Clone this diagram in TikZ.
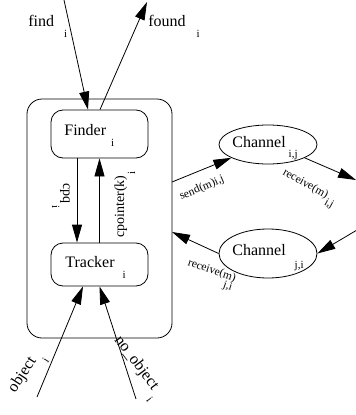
\documentclass[tikz,border=0pt]{standalone}
\usepackage{fontspec}
\setmainfont{Liberation Serif}
\usetikzlibrary{arrows.meta,shapes.geometric}

\newcommand{\subfont}{\fontsize{11}{11}\selectfont}
\newcommand{\subat}[3]{\hspace{#1}\raisebox{#2}{\subfont #3}}
\newcommand{\sub}[2][3pt]{\subat{#1}{-11pt}{#2}}

\begin{document}
\begin{tikzpicture}[x=1pt, y=-1pt, line width=0.8pt,
    arr/.style={-{Triangle[length=18pt, width=10pt]}},
    outer/.style={draw, rounded corners=15pt, inner sep=0pt},
    box/.style={draw, rounded corners=12pt, minimum width=97pt, inner sep=0pt},
    chan/.style={draw, ellipse, minimum width=98pt, inner sep=0pt},
    lbl/.style={inner sep=0pt, font=\fontsize{16}{16}\selectfont},
    midlbl/.style={inner sep=0pt, font=\fontsize{14}{14}\selectfont},
    smalllbl/.style={inner sep=0pt, font=\fontsize{11.5}{11.5}\selectfont}]
  \useasboundingbox (0,0) rectangle (356,415);

  \node[outer, minimum width=145pt, minimum height=239pt] (proc) at (99.5,218.5) {};
  \node[box, minimum height=48pt] (finder) at (99.5,134) {};
  \node[box, minimum height=43pt] (tracker) at (99.5,264.5) {};
  \node[chan, minimum height=39pt] (chanij) at (268,144.5) {};
  \node[chan, minimum height=49pt] (chanji) at (268,253.5) {};

  \node[lbl, anchor=base west] (finderlbl) at (64,135) {Finder\sub[5pt]{i}};
  \node[lbl, anchor=base west] (trackerlbl) at (65,267) {Tracker\sub[8pt]{i}};
  \node[lbl, anchor=base west] (chanijlbl) at (232,147) {Channel\subat{3pt}{-10pt}{i,j}};
  \node[lbl, anchor=base west] (chanjilbl) at (232,255) {Channel\subat{9pt}{-13pt}{j,i}};

  \coordinate (findin) at (64,0);
  \coordinate (foundout) at (147,2);
  \coordinate (objin) at (37,397);
  \coordinate (noobjin) at (136,399);
  \coordinate (sendfrom) at (172,182);
  \coordinate (rcvij) at (356,180);
  \coordinate (sendji) at (357,230);
  \coordinate (rcvji) at (172,232);

  \draw[arr] (findin) -- ([xshift=-11.5pt]finder.north);
  \draw[arr] ([xshift=0.5pt]finder.north) -- (foundout);
  \draw[arr] ([xshift=-22.5pt]finder.south) -- ([xshift=-22.5pt]tracker.north);
  \draw[arr] (tracker.north) -- (finder.south);
  \draw[arr] (objin) -- ([xshift=-16.5pt]tracker.south);
  \draw[arr] (noobjin) -- (tracker.south);
  \draw[arr] (sendfrom) -- (chanij.200);
  \draw[arr] (chanij.-20) -- (rcvij);
  \draw[arr] (sendji) -- (chanji.east);
  \draw[arr] (chanji.west) -- (rcvji);

  \node[lbl, anchor=base west] (findlbl) at (28,27) {find\sub[10pt]{i}};
  \node[lbl, anchor=base west] (foundlbl) at (148,27) {found\sub[11pt]{i}};
  \node[midlbl, rotate=-90, anchor=base west] (cpqlbl) at (63,183) {cpq\sub[2pt]{i}};
  \node[midlbl, rotate=90, anchor=base west] (cptrlbl) at (124,238) {cpointer(k)\sub[1pt]{i}};
  \node[lbl, rotate=57, anchor=base west] (objlbl) at (15,394) {object\sub[4pt]{i}};
  \node[lbl, rotate=-53, anchor=base west] (noobjlbl) at (114,340) {no\_object\sub[4pt]{i}};
  \node[smalllbl, rotate=23, anchor=base west] (sendlbl) at (181,200) {send(m)i,j};
  \node[smalllbl, rotate=-29, anchor=base west] (rcvijlbl) at (282,174) {receive(m)\subat{1pt}{-6pt}{i,j}};
  \node[smalllbl, rotate=-19, anchor=base west] (rcvjilbl) at (187,265) {receive(m)\subat{-9pt}{-10pt}{j,i}};
\end{tikzpicture}
\end{document}
